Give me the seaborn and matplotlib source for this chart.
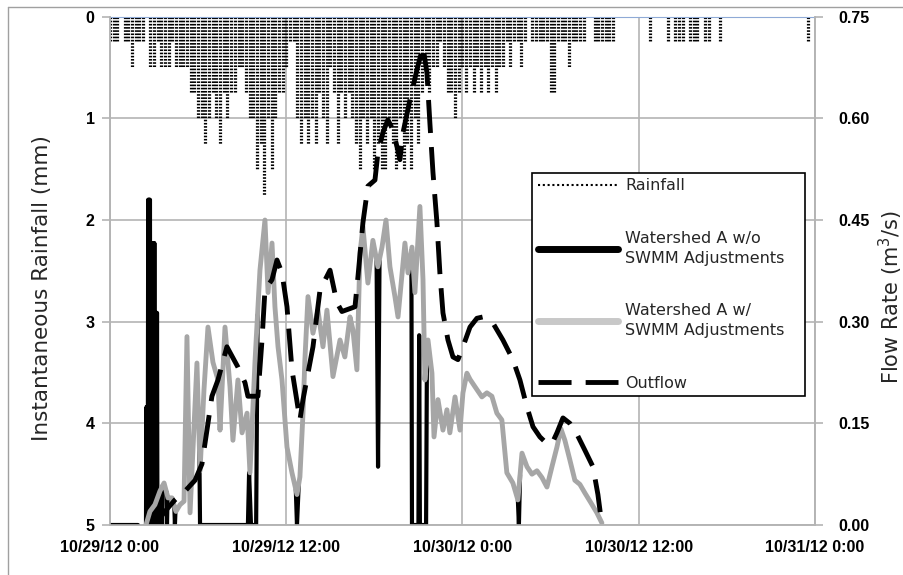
import numpy as np
import pandas as pd
import matplotlib
matplotlib.use("Agg")
import matplotlib.pyplot as plt
from matplotlib.lines import Line2D
from matplotlib.ticker import FormatStrFormatter
import seaborn as sns

# rainfall (mm) in 15-min steps from 10/29/12 0:00, one row per hour
rain_mm = [
    0.25, 0.25, 0.25, 0,      # 0h
    0.25, 0.25, 0.5, 0.25,
    0.25, 0.25, 0, 0.5,
    0.5, 0.25, 0.5, 0.5,
    0.5, 0.25, 0.5, 0.5,
    0.5, 0.5, 0.75, 0.75,     # 5h
    1.0, 1.0, 1.25, 1.0,
    0.75, 1.0, 1.25, 0.75,
    1.0, 0.75, 0.75, 0.5,
    0.5, 0.75, 1.0, 1.0,
    1.5, 1.25, 1.75, 1.0,     # 10h
    1.5, 1.0, 0.75, 0.75,
    0.5, 0.25, 0.25, 1.0,
    1.25, 1.0, 1.25, 1.0,
    1.25, 0.75, 1.0, 1.25,
    0.5, 0.75, 1.25, 0.75,    # 15h
    1.0, 0.75, 1.0, 1.25,
    1.5, 1.0, 1.25, 1.0,
    1.5, 1.25, 1.5, 1.5,
    1.0, 1.25, 1.5, 1.0,
    1.5, 1.25, 1.5, 1.0,      # 20h
    1.25, 0.75, 0.5, 0.75,
    0.5, 0.5, 0.25, 0.5,
    0.75, 0.75, 1.0, 0.75,
    0.5, 0.75, 0.5, 0.75,
    0.5, 0.75, 0.5, 0.75,     # 25h
    0.5, 0.75, 0.5, 0.5,
    0.25, 0.5, 0.25, 0.25,
    0.5, 0.25, 0, 0.25,
    0.25, 0.25, 0.25, 0.25,
    0.75, 0.75, 0.25, 0.25,   # 30h
    0.25, 0.5, 0.25, 0.25,
    0.25, 0.25, 0, 0,
    0.25, 0.25, 0.25, 0.25,
    0.25, 0.25, 0, 0,
    0, 0, 0, 0,               # 35h
    0, 0, 0, 0.25,
    0, 0, 0, 0,
    0.25, 0, 0.25, 0.25,
    0.25, 0, 0.25, 0.25,
    0.25, 0, 0.25, 0.25,      # 40h
    0, 0, 0.25, 0,
    0, 0, 0, 0,
    0, 0, 0, 0,
    0, 0, 0, 0,
    0, 0, 0, 0,               # 45h
    0, 0, 0, 0,
    0, 0, 0.25, 0,
]
rain_step_h = 0.25

# Watershed A w/ SWMM adjustments (hours, m3/s)
gray_t = [2.45, 2.72, 3.06, 3.40, 3.68, 3.95, 4.22, 4.49, 4.77, 5.04,
          5.24, 5.45, 5.92, 6.13, 6.40, 6.67, 7.01, 7.35, 7.49, 7.83,
          8.17, 8.37, 8.71, 8.99, 9.33, 9.53, 9.87, 10.21, 10.55, 10.76,
          11.03, 11.23, 11.44, 11.71, 12.05, 12.39, 12.73, 12.93, 13.14, 13.27,
          13.48, 13.82, 14.16, 14.50, 14.77, 15.18, 15.66, 15.99, 16.34, 16.54,
          16.81, 17.02, 17.22, 17.56, 17.90, 18.24, 18.52, 18.79, 19.06, 19.40,
          19.61, 20.08, 20.29, 20.56, 20.76, 21.10, 21.31, 21.44, 21.65, 21.92,
          22.06, 22.33, 22.67, 22.94, 23.14, 23.49, 23.83, 24.03, 24.30, 24.51,
          24.85, 25.32, 25.66, 26.00, 26.34, 26.68, 27.02, 27.43, 27.77, 28.05,
          28.39, 28.73, 29.07, 29.41, 29.75, 30.09, 30.43, 30.70, 30.97, 31.31,
          31.65, 31.99, 32.34, 32.68, 33.15, 33.49]
gray_q = [0.0, 0.02, 0.03, 0.05, 0.062, 0.04, 0.04, 0.02, 0.03, 0.035,
          0.278, 0.018, 0.239, 0.08, 0.2, 0.292, 0.24, 0.214, 0.14, 0.292,
          0.204, 0.125, 0.214, 0.136, 0.165, 0.077, 0.24, 0.376, 0.45, 0.343,
          0.416, 0.322, 0.263, 0.214, 0.115, 0.077, 0.045, 0.071, 0.165, 0.244,
          0.337, 0.283, 0.317, 0.263, 0.317, 0.219, 0.273, 0.248, 0.307, 0.288,
          0.229, 0.401, 0.44, 0.357, 0.42, 0.381, 0.41, 0.45, 0.381, 0.337,
          0.307, 0.416, 0.372, 0.41, 0.343, 0.47, 0.362, 0.214, 0.273, 0.224,
          0.13, 0.185, 0.14, 0.17, 0.136, 0.189, 0.14, 0.195, 0.224, 0.215,
          0.204, 0.189, 0.195, 0.19, 0.165, 0.155, 0.077, 0.062, 0.037, 0.106,
          0.086, 0.075, 0.08, 0.07, 0.056, 0.086, 0.115, 0.142, 0.125, 0.096,
          0.066, 0.06, 0.047, 0.035, 0.018, 0.003]

# Watershed A w/o SWMM adjustments: only where it departs from the gray run
black_t = [0.0, 1.9,
           2.45, 2.48, 2.51, 2.54, 2.57, 2.60, 2.63, 2.66, 2.69, 2.72, 2.75, 2.78, 2.81, 2.84,
           2.87, 2.90, 2.93, 2.96, 2.99, 3.02, 3.05, 3.08, 3.11, 3.14, 3.17, 3.20, 3.23, 3.27,
           3.50, 3.54, 3.58,
           3.84, 3.88, 3.92,
           4.38, 4.42, 4.46,
           6.08, 6.13, 9.39, 9.47, 9.60, 9.95, 10.05,
           12.65, 12.73, 12.85,
           18.15, 18.25, 18.35,
           20.52, 20.56, 21.00, 21.05, 21.10, 21.52, 21.58,
           27.77, 27.84, 27.92]
black_q = [0, 0,
           0, 0.174, 0, 0.174, 0, 0.48, 0, 0.48, 0, 0.48, 0, 0.416, 0, 0.416,
           0, 0.416, 0, 0.416, 0, 0.416, 0, 0.313, 0, 0.313, 0, 0.313, 0, 0.042,
           0.054, 0, 0.058,
           0.049, 0, 0.042,
           0.028, 0, 0.022,
           0.117, 0, 0, 0.077, 0, 0, 0.31,
           0.053, 0, 0.06,
           0.39, 0.086, 0.39,
           0.405, 0, 0, 0.28, 0, 0, 0.254,
           0.037, 0, 0.074]
black_seg = [0, 0,
             1, 1, 1, 1, 1, 1, 1, 1, 1, 1, 1, 1, 1, 1,
             1, 1, 1, 1, 1, 1, 1, 1, 1, 1, 1, 1, 1, 1,
             2, 2, 2,
             3, 3, 3,
             4, 4, 4,
             5, 5, 5, 5, 5, 5, 5,
             6, 6, 6,
             7, 7, 7,
             8, 8, 8, 8, 8, 8, 8,
             9, 9, 9]

# Outflow (hours, m3/s)
out_t = [3.06, 3.74, 4.42, 5.11, 5.79, 6.26, 6.67, 6.94, 7.35, 7.96,
         8.71, 9.19, 9.39, 10.07, 10.35, 10.55, 11.03, 11.37, 11.71, 12.05,
         12.39, 12.93, 13.14, 13.82, 14.30, 14.98, 15.45, 15.79, 16.68, 16.88,
         17.22, 17.56, 18.04, 18.24, 18.58, 18.92, 19.26, 19.54, 19.74, 19.95,
         20.42, 20.90, 21.31, 21.58, 21.78, 21.99, 22.26, 22.46, 22.67, 23.01,
         23.35, 23.69, 24.03, 24.51, 24.98, 25.39, 26.07, 26.75, 27.43, 27.91,
         28.39, 28.80, 29.27, 29.75, 30.09, 30.43, 30.84, 31.31, 31.79, 32.34,
         32.88, 33.22, 33.49]
out_q = [0.0, 0.02, 0.037, 0.05, 0.066, 0.09, 0.15, 0.19, 0.214, 0.263,
         0.233, 0.21, 0.19, 0.19, 0.273, 0.347, 0.362, 0.391, 0.372, 0.322,
         0.229, 0.155, 0.185, 0.263, 0.347, 0.376, 0.328, 0.315, 0.322, 0.366,
         0.446, 0.50, 0.509, 0.549, 0.579, 0.598, 0.583, 0.558, 0.539, 0.579,
         0.627, 0.672, 0.706, 0.667, 0.593, 0.52, 0.446, 0.372, 0.313, 0.273,
         0.248, 0.244, 0.263, 0.292, 0.305, 0.307, 0.298, 0.273, 0.244, 0.214,
         0.174, 0.145, 0.13, 0.12, 0.12, 0.136, 0.158, 0.15, 0.134, 0.11,
         0.086, 0.045, 0.0]

x_ticks = [0, 12, 24, 36, 48]
x_labels = ["10/29/12 0:00", "10/29/12 12:00", "10/30/12 0:00",
            "10/30/12 12:00", "10/31/12 0:00"]
rain_ticks = [0, 1, 2, 3, 4, 5]
flow_ticks = [0.0, 0.15, 0.30, 0.45, 0.60, 0.75]

sns.set_style("white")
plt.rcParams["font.family"] = ["DejaVu Sans"]

grid_col = "#b4b4b4"
gray_col = "#a6a6a6"
dash = (0, (6.8, 2.9))
dots = (0, (0.5, 0.5))

fig = plt.figure(figsize=(9.04, 5.75), dpi=100)
ax = fig.add_axes([110 / 904, 1 - 525 / 575, 705 / 904, 508.3 / 575])
ax2 = ax.twinx()

# rainfall as dotted drops hanging from the top
rain = pd.DataFrame({"t": np.arange(len(rain_mm)) * rain_step_h, "mm": rain_mm})
rain = rain[rain["mm"] > 0]
ax.vlines(rain["t"], 0, rain["mm"], colors="black", linestyles=dots,
          linewidth=2.3, zorder=2)

black_df = pd.DataFrame({"t": black_t, "q": black_q, "seg": black_seg})
sns.lineplot(data=black_df, x="t", y="q", units="seg", estimator=None, sort=False,
             color="black", linewidth=3.0, ax=ax2, legend=False)
sns.lineplot(x=gray_t, y=gray_q, estimator=None, sort=False, color=gray_col,
             linewidth=3.5, ax=ax2, legend=False)
sns.lineplot(x=out_t, y=out_q, estimator=None, sort=False, color="black",
             linewidth=3.5, linestyle=dash, ax=ax2, legend=False)

ax.set_xlim(0, 48)
ax.set_ylim(5, 0)
ax2.set_ylim(0, 0.75)
ax.set_xticks(x_ticks)
ax.set_xticklabels(x_labels)
ax.set_yticks(rain_ticks)
ax2.set_yticks(flow_ticks)
ax2.yaxis.set_major_formatter(FormatStrFormatter("%.2f"))
ax2.set_xlabel("")
ax2.set_ylabel("")

ax.grid(True, color=grid_col, linewidth=1.2)
ax2.grid(False)
ax.set_axisbelow(True)

for a in (ax, ax2):
    for side in ("left", "right", "bottom"):
        a.spines[side].set_color(grid_col)
        a.spines[side].set_linewidth(1.2)
    a.spines["top"].set_visible(False)
ax.spines["top"].set_visible(True)
ax.spines["top"].set_color("#8faad6")
ax.spines["top"].set_linestyle((0, (1, 1)))

ax.tick_params(axis="both", direction="out", length=6, width=1.2, color=grid_col, pad=5)
ax2.tick_params(axis="y", direction="out", length=6, width=1.2, color=grid_col, pad=11)
for lab in ax.get_xticklabels() + ax.get_yticklabels() + ax2.get_yticklabels():
    lab.set_fontfamily("Liberation Sans")
    lab.set_fontweight("bold")
    lab.set_fontsize(11.5)
    lab.set_color("black")

fig.text(42 / 904, 1 - 288 / 575, "Instantaneous Rainfall (mm)", rotation=90,
         ha="center", va="center", fontsize=15.5)
fig.text(891 / 904, 1 - 297 / 575, "Flow Rate (m$^3$/s)", rotation=90,
         ha="center", va="center", fontsize=15)

handles = [
    Line2D([], [], color="black", linewidth=1.5, linestyle=(0, (1, 1.3))),
    Line2D([], [], color="black", linewidth=5),
    Line2D([], [], color="#c8c8c8", linewidth=5),
    Line2D([], [], color="black", linewidth=3.5, linestyle=dash),
]
labels = ["Rainfall", "Watershed A w/o\nSWMM Adjustments",
          "Watershed A w/\nSWMM Adjustments", "Outflow"]
leg = ax2.legend(handles, labels, loc="upper left", bbox_to_anchor=(0.599, 0.0, 0.387, 0.693),
                 mode="expand", borderaxespad=0, fontsize=11.5, handlelength=5.0,
                 handletextpad=0.45, labelspacing=2.35, borderpad=0.35,
                 frameon=True, fancybox=False, edgecolor="black", framealpha=1)
leg.get_frame().set_linewidth(1.2)
for txt in leg.get_texts():
    txt.set_linespacing(1.4)

# outer chart border (runs off the right and bottom of the picture)
fig.add_artist(Line2D([8 / 904, 8 / 904], [0, 1 - 7 / 575], color="#a0a0a0", linewidth=1))
fig.add_artist(Line2D([8 / 904, 1], [1 - 7 / 575, 1 - 7 / 575], color="#a0a0a0", linewidth=1))

fig.savefig("out.png", dpi=100)
